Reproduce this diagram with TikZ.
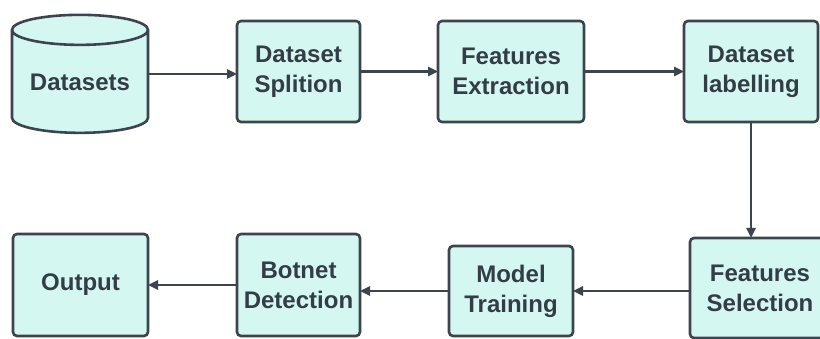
\documentclass[tikz,border=0pt]{standalone}
\usepackage{fontspec}
\setmainfont{Liberation Sans}
\usetikzlibrary{arrows.meta, positioning, shapes.geometric}
\definecolor{Cfill}{HTML}{D5F7F2}
\definecolor{Cline}{HTML}{3C454D}
\definecolor{Ctext}{HTML}{333D45}
\tikzset{
  stepbox/.style={draw=Cline, fill=Cfill, rounded corners=4pt, line width=2.6pt,
    align=center, text=Ctext, inner sep=0pt, outer sep=0pt,
    font=\fontsize{24}{30}\selectfont\bfseries},
  dbstore/.style={cylinder, shape border rotate=90, aspect=0.3, draw=Cline,
    fill=Cfill, line width=2.6pt, align=center, text=Ctext, inner sep=0pt,
    outer sep=0pt, font=\fontsize{24}{30}\selectfont\bfseries},
  arr/.style={-{Triangle[length=10pt, width=9pt]}, line width=2.4pt, draw=Cline},
}

\begin{document}
\begin{tikzpicture}[x=1pt, y=-1pt]
\useasboundingbox (0,0) rectangle (820,339);
\clip (0,0) rectangle (820,339);

%% top row
\node[dbstore, minimum width=136pt, minimum height=118pt] (datasets) at (80,82) {Datasets};

\node[stepbox, minimum width=123pt, minimum height=101pt,
  right=89pt of datasets, yshift=10.5pt] (splition) {Dataset\\Splition};

\node[stepbox, minimum width=146pt, minimum height=101pt,
  right=78pt of splition] (extraction) {Features\\Extraction};

\node[stepbox, minimum width=134pt, minimum height=101pt,
  right=100pt of extraction] (labelling) {Dataset\\labelling};

%% bottom row
\node[stepbox, minimum width=140pt, minimum height=100pt] (selection) at (760,288)
  {Features\\Selection};

\node[stepbox, minimum width=124pt, minimum height=90pt,
  left=117pt of selection, yshift=-3pt] (training) {Model\\Training};

\node[stepbox, minimum width=123pt, minimum height=102pt,
  left=89pt of training, yshift=6pt] (detection) {Botnet\\Detection};

\node[stepbox, minimum width=135pt, minimum height=102pt,
  left=89pt of detection] (output) {Output};

%% arrows
\draw[arr] ([yshift=8pt]datasets.east) -- ([yshift=8pt]datasets.east -| splition.west);
\draw[arr] (splition.east) -- (extraction.west);
\draw[arr] (extraction.east) -- (labelling.west);
\draw[arr] (labelling.south) -- (labelling.south |- selection.north);
\draw[arr] (selection.west |- training.east) -- (training.east);
\draw[arr] (training.west) -- (training.west -| detection.east);
\draw[arr] (detection.west) -- (output.east);

\end{tikzpicture}
\end{document}
